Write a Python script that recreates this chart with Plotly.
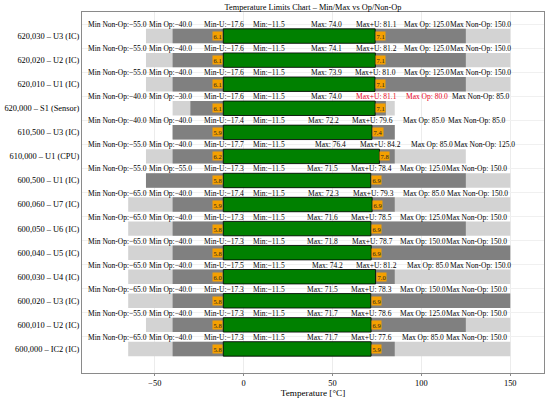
import plotly.graph_objects as go

categories = [
    "620,030 – U3 (IC)", "620,020 – U2 (IC)", "620,010 – U1 (IC)",
    "620,000 – S1 (Sensor)", "610,500 – U3 (IC)", "610,000 – U1 (CPU)",
    "600,500 – U1 (IC)", "600,060 – U7 (IC)", "600,050 – U6 (IC)",
    "600,040 – U5 (IC)", "600,030 – U4 (IC)", "600,020 – U3 (IC)",
    "600,010 – U2 (IC)", "600,000 – IC2 (IC)",
]
min_nonop = [-55, -55, -55, -40, -40, -55, -55, -65, -65, -65, -65, -65, -55, -65]
min_op = [-40, -40, -40, -30, -40, -40, -55, -40, -40, -40, -40, -40, -40, -40]
min_u = [-17.6, -17.6, -17.6, -17.6, -17.4, -17.7, -17.3, -17.4, -17.3, -17.3, -17.5, -17.3, -17.3, -17.3]
min_v = [-11.5] * 14
max_v = [74.0, 74.1, 73.9, 74.0, 72.2, 76.4, 71.5, 72.3, 71.6, 71.8, 74.2, 71.5, 71.7, 71.7]
max_u = [81.1, 81.2, 81.0, 81.1, 79.6, 84.2, 78.4, 79.3, 78.5, 78.7, 81.2, 78.3, 78.6, 77.6]
max_op = [125, 125, 125, 80, 85, 85, 125, 85, 125, 150, 85, 150, 125, 85]
max_nonop = [150, 150, 150, 85, 85, 125, 150, 150, 150, 150, 150, 150, 150, 150]
unc_low = [6.1, 6.1, 6.1, 6.1, 5.9, 6.2, 5.8, 5.9, 5.8, 5.8, 6.0, 5.8, 5.8, 5.8]
unc_high = [7.1, 7.1, 7.1, 7.1, 7.4, 7.8, 6.9, 6.9, 6.9, 6.9, 7.0, 6.9, 6.9, 5.9]

FONT = "Liberation Serif"
BAR_W = 0.6

fig = go.Figure()
fig.add_bar(y=categories, base=min_nonop, x=[b - a for a, b in zip(min_nonop, max_nonop)],
            orientation="h", width=BAR_W, marker=dict(color="#d3d3d3", line=dict(width=0)),
            showlegend=False)
fig.add_bar(y=categories, base=min_op, x=[b - a for a, b in zip(min_op, max_op)],
            orientation="h", width=BAR_W, marker=dict(color="#808080", line=dict(width=0)),
            showlegend=False)
fig.add_bar(y=categories, base=min_v, x=[b - a for a, b in zip(min_v, max_v)],
            orientation="h", width=BAR_W, marker=dict(color="#008000", line=dict(width=0.8, color="black")),
            showlegend=False)


def fmt(v):
    s = f"{abs(v):.1f}"
    return ("−" + s) if v < 0 else s


annotations = []
LBL = 7.5
for i, cat in enumerate(categories):
    viol = max_u[i] > max_op[i]
    red = "#e8001c"
    items = [
        (min_v[i] - 59.5, f"Min Non-Op:{fmt(min_nonop[i])}", "black"),
        (min_v[i] - 29.5, f"Min Op:{fmt(min_op[i])}", "black"),
        (min_v[i] + 0.2, f"Min-U:{fmt(min_u[i])}", "black"),
        (min_v[i] + 25.5, f"Min:{fmt(min_v[i])}", "black"),
        (max_v[i] - 27.3, f"Max: {fmt(max_v[i])}", "black"),
        (max_v[i] + 0.5, f"Max+U: {fmt(max_u[i])}", red if viol else "black"),
        (max_v[i] + 29.3, f"Max Op: {fmt(max_op[i])}", red if viol else "black"),
        (max_v[i] + 59.3, f"Max Non-Op: {fmt(max_nonop[i])}", "black"),
    ]
    for xv, txt, col in items:
        annotations.append(dict(x=xv, y=cat, xref="x", yref="y", text=txt, showarrow=False,
                                xanchor="center", yanchor="middle", yshift=11.5,
                                font=dict(family=FONT, size=LBL, color=col)))
    annotations.append(dict(x=min_v[i], y=cat, xref="x", yref="y", text=f"{unc_low[i]:.1f}",
                            showarrow=False, xanchor="right", yanchor="middle",
                            bgcolor="#f5a000", borderpad=0.5,
                            font=dict(family=FONT, size=6.5, color="#222")))
    annotations.append(dict(x=max_v[i], y=cat, xref="x", yref="y", text=f"{unc_high[i]:.1f}",
                            showarrow=False, xanchor="left", yanchor="middle",
                            bgcolor="#f5a000", borderpad=0.5,
                            font=dict(family=FONT, size=6.5, color="#222")))

fig.update_layout(
    template="none",
    width=550, height=399,
    margin=dict(l=82, r=6, t=12, b=26, autoexpand=False),
    barmode="overlay",
    plot_bgcolor="white", paper_bgcolor="white",
    font=dict(family=FONT, size=8.4, color="black"),
    title=dict(text="Temperature Limits Chart – Min/Max vs Op/Non-Op",
               x=0.5, xref="paper", xanchor="center",
               y=1 - 7.5 / 399, yref="container", yanchor="middle", automargin=False,
               font=dict(family=FONT, size=8.3, color="black")),
    annotations=annotations,
)
fig.update_xaxes(range=[-91, 169], dtick=50, tick0=0, showgrid=True, gridcolor="#ececec", gridwidth=1,
                 zeroline=False, showline=True, mirror=True, linecolor="#8a8a8a", linewidth=1,
                 ticks="outside", ticklen=2, tickcolor="#8a8a8a", automargin=False,
                 tickfont=dict(family=FONT, size=8.4, color="black"),
                 title=dict(text="Temperature [°C]", standoff=1,
                            font=dict(family=FONT, size=9.2, color="black")))
fig.update_yaxes(type="category", categoryorder="array", categoryarray=categories,
                 range=[14, -1], tickson="boundaries", showgrid=True, gridcolor="#f0f0f0", gridwidth=1,
                 zeroline=False, showline=True, mirror=True, linecolor="#8a8a8a", linewidth=1,
                 ticks="", automargin=False, tickfont=dict(family=FONT, size=8.4, color="black"))

fig.write_html("out.html", config={"displayModeBar": False},
               post_script="document.body.style.margin='0';")
